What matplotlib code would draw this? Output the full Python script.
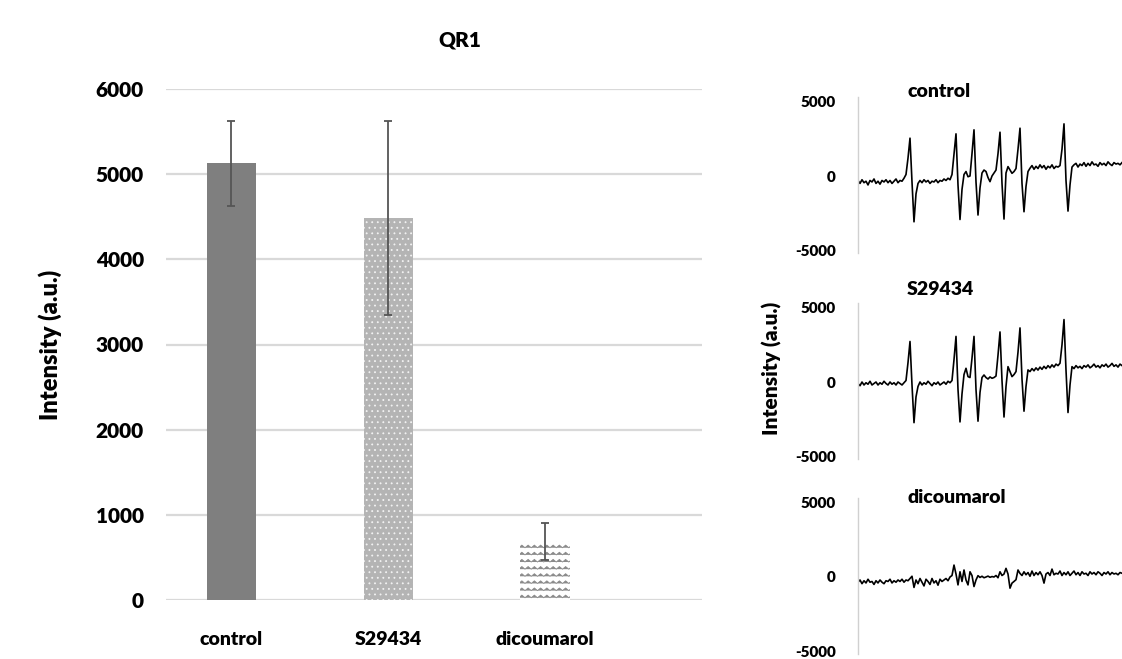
import warnings
warnings.filterwarnings("ignore")
import numpy as np
import matplotlib
matplotlib.use("Agg")
import matplotlib.pyplot as plt
import matplotlib.hatch as mhatch
from matplotlib.path import Path

# ---------------- data ----------------
categories = ["control", "S29434", "dicoumarol"]
means = [5130, 4490, 690]
errors = [500, 1140, 215]
bar_yticks = [0, 1000, 2000, 3000, 4000, 5000, 6000]

spec_titles = ["control", "S29434", "dicoumarol"]
spec_yticks = [-5000, 0, 5000]
# field axis sampled every 2 units (0 .. 264)
spec_x = list(range(0, 266, 2))

spec_control = [
    -300, -500, -250, -450, -350, -600, -300, -400, -200, -500,
    -350, -550, -300, -400, -250, -450, -300, -500, -350, -200,
    -450, -300, -350, -150, 100, 1200, 2540, -400, -3075, -1200,
    -500, -300, -450, -250, -400, -300, -500, -350, -400, -250,
    -450, -300, -350, -200, -300, -150, -250, 100, 1500, 2830,
    -600, -2920, -900, 100, 300, -50, 0, 1500, 3100, -400,
    -2620, -800, 200, 400, 300, -100, -380, 0, 200, 400,
    1500, 2940, -500, -2890, 200, 630, 400, 180, 300, 500,
    1800, 3210, -500, -2400, -700, 300, 520, 700, 450, 650,
    500, 750, 550, 700, 450, 650, 550, 750, 500, 650,
    600, 700, 1800, 3500, -300, -2355, -600, 600, 750, 850,
    600, 800, 700, 900, 650, 850, 700, 950, 750, 800,
    650, 900, 750, 850, 700, 950, 800, 700, 900, 800,
    850, 750, 900]

spec_s29434 = [
    -100, -250, 0, -200, -50, -150, 50, -200, -100, 0,
    -200, -50, -150, 50, -100, -200, 0, -150, -50, -200,
    0, -100, -200, -50, 100, 1300, 2720, -200, -2730, -1000,
    -300, 0, -200, -50, -150, 50, -100, -250, -50, -150,
    0, -200, -100, 0, -150, 50, -50, 100, 1500, 3060,
    -500, -2680, -800, 500, 920, 360, 300, 1600, 3060, -500,
    -2630, -700, 300, 470, 300, 200, 340, 250, 300, 400,
    1800, 3360, 100, -2350, -300, 1030, 700, 360, 500, 700,
    2000, 3630, 200, -1960, -300, 810, 700, 900, 750, 950,
    800, 1000, 850, 1050, 900, 1100, 950, 1150, 1000, 1200,
    1100, 1260, 2500, 4190, 800, -2050, -200, 1030, 900, 1100,
    950, 1050, 900, 1100, 1000, 1150, 950, 1050, 1200, 1000,
    1100, 950, 1150, 1050, 1200, 1000, 1100, 1250, 1050, 1150,
    1000, 1200, 1100]

spec_dicoumarol = [
    -350, -200, -450, -250, -400, -150, -350, -300, -500, -250,
    -400, -200, -350, -450, -250, -300, -150, -400, -250, -350,
    -200, -300, -150, -350, -200, -250, -100, 50, -700, -200,
    -450, -100, -350, -600, -150, -300, -500, -100, -400, -250,
    -550, -150, -300, -200, -100, -250, 0, 100, 800, 200,
    -530, 350, -300, 470, -200, -530, 350, 100, -640, -200,
    90, -30, 50, -50, 0, 60, -20, 30, 0, 100,
    -50, 350, 100, 200, 580, 200, -750, -410, -300, -180,
    470, 240, 100, 350, 150, 300, 50, 400, 100, 300,
    150, 350, 100, -410, 200, 300, 100, 530, 150, 250,
    200, 400, 100, 300, 150, 350, 100, 250, 400, 150,
    300, 100, 350, 200, 250, 100, 350, 200, 300, 150,
    350, 250, 100, 300, 200, 350, 150, 300, 200, 250,
    150, 300, 250]

spectra = [spec_control, spec_s29434, spec_dicoumarol]

# ---------------- custom wavy hatch ----------------
class WaveHatch(mhatch.HatchPatternBase):
    def __init__(self, hatch, density):
        self.num_lines = int(hatch.count('~') * 7)
        self.num_seg = 32
        self.num_vertices = self.num_lines * (self.num_seg + 1)

    def set_vertices_and_codes(self, vertices, codes):
        if self.num_lines == 0:
            return
        n = self.num_seg + 1
        ys = (np.arange(self.num_lines) + 0.5) / self.num_lines
        xs = np.linspace(0, 1, n)
        amp = 0.013
        offs = np.where(np.arange(n) % 2 == 0, -amp, amp)
        for i, y in enumerate(ys):
            vertices[i * n:(i + 1) * n, 0] = xs
            vertices[i * n:(i + 1) * n, 1] = y + offs
            codes[i * n] = Path.MOVETO
            codes[i * n + 1:(i + 1) * n] = Path.LINETO

mhatch._hatch_types.append(WaveHatch)

# ---------------- figure ----------------
plt.rcParams['font.family'] = ['Lato', 'DejaVu Sans']
plt.rcParams['hatch.linewidth'] = 0.6
FW = 'heavy'

W, H = 1122, 659
fig = plt.figure(figsize=(W / 100, H / 100), dpi=100)

def fx(px):
    return px / W

def fy(py):
    return 1 - py / H

# left bar chart
ax = fig.add_axes([fx(166), fy(600), fx(702) - fx(166), fy(89) - fy(600)])
xpos = np.arange(len(categories))
face = ['#7f7f7f', '#b4b4b4', 'white']
hatch_edge = ['#7f7f7f', '#f2f2f2', '#8a8a8a']
hatches = [None, '...', '~~']
for i in range(len(categories)):
    ax.bar(xpos[i], means[i], width=0.313, color=face[i], edgecolor=hatch_edge[i],
           hatch=hatches[i], linewidth=0, zorder=2)
ax.errorbar(xpos, means, yerr=errors, fmt='none', ecolor='#555555',
            elinewidth=1.3, capsize=3, capthick=1.3, zorder=3)
ax.set_ylim(0, 6000)
ax.set_xlim(-0.415, 3.0)
ax.set_yticks(bar_yticks)
ax.set_yticklabels([str(v) for v in bar_yticks], fontsize=15, fontweight=FW)
ax.set_xticks(xpos)
ax.set_xticklabels(categories, fontsize=14, fontweight=FW)
ax.tick_params(axis='both', length=0)
ax.tick_params(axis='y', pad=16)
ax.tick_params(axis='x', pad=22)
ax.yaxis.grid(True, color='#d9d9d9', linewidth=1.6, zorder=0)
ax.set_axisbelow(True)
for s in ax.spines.values():
    s.set_visible(False)
fig.text(fx(50), fy(345), 'Intensity (a.u.)', fontsize=17, fontweight=FW,
         rotation=90, ha='center', va='center')
fig.text(fx(460), fy(40), 'QR1', fontsize=15, fontweight=FW, ha='center', va='center')

# right spectra panels
scale = 74.5 / 5000  # px per a.u.
ylo, yhi = -5150, 5300
zeros_px = [176, 382, 577]
title_base_px = [97, 295, 503]
for k in range(3):
    z = zeros_px[k]
    top = z - yhi * scale
    bot = z - ylo * scale
    sax = fig.add_axes([fx(858), fy(bot), 1 - fx(858), fy(top) - fy(bot)])
    sax.plot(spec_x, spectra[k], color='black', linewidth=1.2)
    sax.set_xlim(0, 264)
    sax.set_ylim(ylo, yhi)
    sax.set_yticks(spec_yticks)
    sax.set_yticklabels([str(v) for v in spec_yticks], fontsize=11, fontweight=FW)
    sax.set_xticks([])
    sax.tick_params(axis='y', length=0, pad=16)
    for name in ['top', 'right', 'bottom']:
        sax.spines[name].set_visible(False)
    sax.spines['left'].set_color('#d0d0d0')
    sax.spines['left'].set_linewidth(1.0)
    sax.patch.set_alpha(0)
    fig.text(fx(907), fy(title_base_px[k]), spec_titles[k], fontsize=14,
             fontweight=FW, ha='left', va='baseline')

fig.text(fx(772), fy(368), 'Intensity (a.u.)', fontsize=15, fontweight=FW,
         rotation=90, ha='center', va='center')

fig.savefig('out.png', dpi=100)
